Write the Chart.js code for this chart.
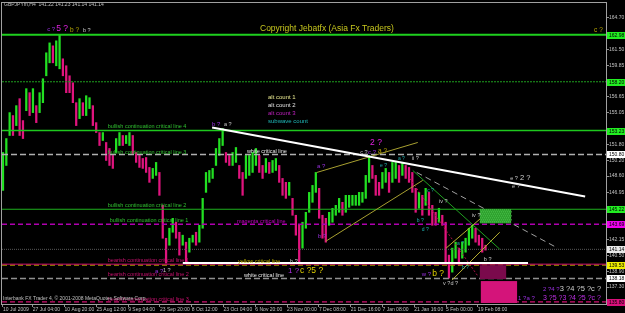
<!DOCTYPE html>
<html>
<head>
<meta charset="utf-8">
<script src="https://cdn.jsdelivr.net/npm/chart.js@4.4.0/dist/chart.umd.min.js"></script>
<style>
  html, body { margin: 0; padding: 0; background: #000; overflow: hidden; }
  canvas { display: block; }
</style>
</head>
<body>
<canvas id="chart" width="625" height="313"></canvas>
<script>
// GBPJPY H4, sampled roughly every 6-7 bars (high / low)
const HIGHS = [151.00,152.42,155.06,154.76,155.77,156.48,154.25,157.50,157.09,157.50,
  155.77,157.09,158.51,161.15,162.16,161.86,162.37,162.97,160.54,159.83,
  158.81,158.10,156.07,156.48,156.07,156.78,156.58,155.77,154.04,153.03,
  153.03,152.02,151.41,150.70,152.42,153.03,152.73,152.73,153.03,152.73,
  151.00,150.70,150.39,150.49,149.48,149.38,149.99,148.97,145.62,142.27,
  143.29,144.30,143.90,142.88,142.58,141.87,142.27,142.58,142.88,143.59,
  146.33,148.97,149.17,149.38,151.41,152.42,153.44,151.00,150.70,151.00,
  151.51,149.68,148.97,150.70,150.70,151.00,151.41,150.70,149.68,150.39,
  149.99,150.19,150.39,149.68,148.36,147.96,147.96,146.33,144.61,143.59,
  143.90,144.91,146.94,147.65,148.97,147.35,144.61,144.30,144.91,145.32,
  145.62,146.33,145.93,146.64,146.64,146.64,146.64,146.94,146.94,148.67,
  150.70,149.68,148.67,147.96,148.97,149.38,148.97,149.99,149.99,149.68,
  149.99,149.68,149.48,148.97,147.35,146.94,146.64,147.35,146.94,145.62,
  144.91,145.32,144.61,143.90,140.55,141.26,141.87,141.26,141.87,142.27,
  143.29,143.59,143.29,142.58,142.27,141.56];
const LOWS = [147.14,149.68,152.73,152.73,153.74,152.73,152.42,155.26,154.76,155.06,
  154.04,155.06,156.07,158.81,160.13,160.13,159.83,159.52,158.81,157.09,
  157.09,156.07,153.74,154.45,154.76,154.76,155.47,153.74,153.03,151.71,
  152.22,150.19,149.68,149.38,151.00,151.71,151.71,151.91,151.71,150.90,
  149.99,149.48,149.38,148.97,147.96,148.36,148.67,146.64,142.27,139.74,
  141.56,142.88,142.27,140.55,141.56,139.84,140.85,141.87,141.56,141.87,
  143.29,146.94,147.96,148.36,149.68,150.70,151.71,149.99,149.68,149.68,
  149.99,148.36,146.64,148.36,148.67,148.97,149.68,148.97,148.36,148.97,
  148.87,148.97,149.17,147.96,146.64,146.33,146.64,144.61,142.58,139.84,
  141.26,143.29,144.91,145.93,146.94,144.30,142.27,141.87,143.59,143.90,
  144.61,144.91,144.61,144.91,145.42,145.62,145.62,145.62,145.93,146.33,
  147.96,148.36,146.64,146.64,147.35,147.96,146.94,147.96,148.36,147.96,
  148.67,148.36,147.96,146.94,144.91,145.32,144.61,145.62,144.61,143.59,
  143.59,143.90,143.59,139.84,138.21,138.82,140.24,139.53,140.24,140.85,
  141.56,142.27,141.87,141.56,140.85,141.06];

const X_LABELS = ['10 Jul 2009','27 Jul 04:00','10 Aug 20:00','25 Aug 12:00','9 Sep 04:00',
  '23 Sep 20:00','8 Oct 12:00','23 Oct 04:00','6 Nov 20:00','23 Nov 00:00','7 Dec 08:00',
  '21 Dec 16:00','7 Jan 08:00','21 Jan 16:00','5 Feb 00:00','19 Feb 08:00'];
const Y_TICKS = [164.70,161.50,159.85,156.65,155.05,151.80,150.20,148.60,146.95,142.15,140.50,138.90,137.30];

// horizontal levels
const LEVELS = [162.98,158.20,153.23,150.80,145.22,143.69,141.14,139.63,139.53,138.18,135.80];

// trend lines: [bar, price] end points
const TREND_WHITE    = [[423,153.54],[1174,146.53]];
const TREND_YELLOW_A = [[634,148.97],[837,152.02]];
const TREND_YELLOW_B = [[652,141.97],[847,148.16]];
const TREND_YELLOW_C = [[894,141.26],[978,144.91]];
const TREND_YELLOW_D = [[906,138.01],[1002,142.88]];
const TREND_RED      = [[821,148.36],[958,138.42]];
const TREND_GREEN    = [[827,149.17],[1002,141.16]];
const TREND_GREY     = [[835,148.97],[1119,141.26]];
const WHITE_SEGMENT  = [[364,139.74],[1059,139.74]];

// rectangles: [bar from, bar to, price low, price high]
const ZONE_GREEN = [962,1025,143.79,145.21];
const ZONE_DARK  = [962,1015,138.11,139.53];
const ZONE_PINK  = [964,1037,135.68,137.91];

// level captions: [bar, price, text]
const GREEN_CAPTIONS = [[213,153.64,'bullish continuation critical line 4'],[213,151.00,'bullish continuation critical line 3'],
  [213,145.62,'bullish continuation critical line 2'],[217,144.10,'bullish continuation critical line 1']];
const PINK_CAPTIONS = [[213,140.04,'bearish continuation critical line 1'],[213,138.62,'bearish continuation critical line 2'],
  [213,136.08,'bearish continuation critical line 3']];
const WHITE_CAPTIONS = [[493,151.10,'white critical line'],[487,138.52,'white critical line']];
const MAGENTA_CAPTIONS = [[473,144.00,'magenta critical line']];
const YELLOW_CAPTIONS = [[475,139.94,'yellow critical line']];

// wave counts: [bar, price, text]
const PURPLE_WAVES = [[91,163.50,'c ?'],[423,153.84,'b ?'],[737,151.00,'c ?'],[634,149.60,'a ?'],[636,142.45,'b ?'],
  [308,138.95,'a ?'],[845,138.62,'w ?'],[1039,136.18,'1 ?a ?'],[1089,137.10,'2 ?4 ?']];
const PURPLE_BIG = [[576,138.95,'1 ?']];
const MAGENTA_BIG = [[109,163.60,'5 ?'],[741,152.05,'2 ?']];
const MAGENTA_ROW = [[1089,136.18,'3 ?5 ?3 ?4 ?5 ?c ?']];
const OLIVE_WAVES = [[137,163.45,'b ?'],[1192,163.50,'c ?'],[757,151.10,'a ?']];
const YELLOW_BIG = [[600,138.95,'c ?5 ?'],[866,138.62,'b ?']];
const GREY_WAVES = [[163,163.45,'b ?'],[447,153.84,'a ?'],[721,151.00,'c ?'],[324,138.95,'1 ?'],[580,139.94,'b ?'],
  [1023,148.36,'e ?'],[1027,147.55,'e ?'],[888,137.71,'v ?d ?'],[970,140.14,'b ?'],[825,150.40,'ii ?'],[880,146.00,'iv ?'],
  [946,144.60,'iv ?']];
const GREY_BIG = [[1043,148.36,'2 ?'],[1123,137.10,'3 ?4 ?5 ?c ?']];
const TEAL_WAVES = [[761,149.68,'e ?'],[797,150.39,'a ?'],[856,147.14,'c ?'],[835,144.10,'b ?'],[845,143.19,'d ?'],
  [916,141.77,'a ?'],[926,139.23,'b ?']];

const FONT = '"Liberation Sans", Arial, sans-serif';
const X_MAX = 1216, FIRST_BAR = 2, STEP = 6.7;
const Y_MIN = 135.575, Y_MAX = 166.22;
const UP = '#22e022', DOWN = '#e0147e';

const xTickBars = X_LABELS.map((_, i) => i === 0 ? 2 : 62 + 64 * (i - 1));

const priceData = HIGHS.map((h, k) => ({ x: FIRST_BAR + k * STEP, y: [LOWS[k], h] }));
const priceColors = HIGHS.map((h, k) => {
  if (k === 0) return UP;
  return (h + LOWS[k]) >= (HIGHS[k - 1] + LOWS[k - 1]) ? UP : DOWN;
});

const LEVEL_STYLE = [
  { c: '#1ed01e', w: 2,   d: [],    box: '#22ee22' },
  { c: '#1ea01e', w: 1,   d: [2, 1], box: '#22ee22' },
  { c: '#1ec81e', w: 1.5, d: [],    box: '#22ee22' },
  { c: '#b0b0b0', w: 1.5, d: [6, 3], box: '#ffffff' },
  { c: '#1eb01e', w: 1.2, d: [],    box: '#22ee22' },
  { c: '#b000b0', w: 1.5, d: [5, 3], box: '#ee00ee' },
  { c: '#585858', w: 1,   d: [1, 1], box: '#e8e8e8' },
  { c: '#d01070', w: 1,   d: [],    box: null },
  { c: '#a89400', w: 1.2, d: [5, 3], box: '#eeee00' },
  { c: '#909090', w: 1.5, d: [6, 3], box: '#ffffff' },
  { c: '#d01070', w: 1.2, d: [5, 3], box: '#d8107a' }
];

function seg(points, color, width, dash) {
  return {
    type: 'line', data: points.map(([x, y]) => ({ x, y })),
    borderColor: color, borderWidth: width, borderDash: dash || [],
    pointRadius: 0, fill: false, tension: 0, order: 0
  };
}

const datasets = [
  { type: 'bar', data: priceData, backgroundColor: priceColors, barThickness: 1.6, order: 2 }
];
LEVELS.forEach((v, i) => {
  const s = LEVEL_STYLE[i];
  datasets.push(Object.assign(seg([[0, v], [X_MAX, v]], s.c, s.w, s.d), { order: 1 }));
});
datasets.push(seg(WHITE_SEGMENT, '#ffffff', 2));
datasets.push(seg(TREND_WHITE, '#ffffff', 2));
datasets.push(seg(TREND_YELLOW_A, '#a8a030', 1));
datasets.push(seg(TREND_YELLOW_B, '#a8a030', 1));
datasets.push(seg(TREND_YELLOW_C, '#b8b030', 1));
datasets.push(seg(TREND_YELLOW_D, '#b8b030', 1));
datasets.push(seg(TREND_RED, '#b0104a', 1, [2, 2]));
datasets.push(seg(TREND_GREEN, '#20a020', 1));
datasets.push(seg(TREND_GREY, '#a0a0a0', 1, [6, 4]));

function txt(ctx, s, x, y, color, size) {
  ctx.font = size + 'px ' + FONT;
  ctx.fillStyle = color;
  ctx.textAlign = 'left';
  ctx.textBaseline = 'middle';
  ctx.fillText(s, x, y);
}

const overlay = {
  id: 'overlay',
  beforeDraw(chart) {
    const { ctx, width, height } = chart;
    ctx.save();
    ctx.fillStyle = '#000';
    ctx.fillRect(0, 0, width, height);
    ctx.restore();
  },
  afterDatasetsDraw(chart) {
    const { ctx, chartArea: a } = chart;
    const xs = chart.scales.x, ys = chart.scales.y;
    ctx.save();
    ctx.beginPath();
    ctx.rect(a.left, a.top, a.right - a.left, a.bottom - a.top);
    ctx.clip();

    const zone = (z, fill) => {
      const x0 = xs.getPixelForValue(z[0]), x1 = xs.getPixelForValue(z[1]);
      const y0 = ys.getPixelForValue(z[3]), y1 = ys.getPixelForValue(z[2]);
      ctx.fillStyle = fill;
      ctx.fillRect(x0, y0, x1 - x0, y1 - y0);
      return [x0, y0, x1, y1];
    };
    const g = zone(ZONE_GREEN, '#2c9c2c');
    ctx.fillStyle = '#55d055';
    for (let yy = g[1]; yy < g[3]; yy += 2)
      for (let xx = g[0] + ((yy - g[1]) % 4 ? 1 : 0); xx < g[2]; xx += 2) ctx.fillRect(xx, yy, 1, 1);
    zone(ZONE_DARK, '#7a0a4c');
    zone(ZONE_PINK, '#d4147a');

    const put = (list, color, size) => list.forEach(([b, p, s]) =>
      txt(ctx, s, xs.getPixelForValue(b), ys.getPixelForValue(p), color, size));
    put(GREEN_CAPTIONS, '#30c030', 5.5);
    put(PINK_CAPTIONS, '#c8106e', 5.5);
    put(WHITE_CAPTIONS, '#e8e8e8', 5.5);
    put(MAGENTA_CAPTIONS, '#c000c0', 5.5);
    put(YELLOW_CAPTIONS, '#b4a800', 5.5);
    put(PURPLE_WAVES, '#9a30e0', 6);
    put(PURPLE_BIG, '#b030e8', 8);
    put(MAGENTA_BIG, '#e020e0', 8.5);
    put(MAGENTA_ROW, '#c030e8', 7);
    put(OLIVE_WAVES, '#b8a800', 6.5);
    put(YELLOW_BIG, '#e0d000', 8.5);
    put(GREY_WAVES, '#c8c8c8', 5.5);
    put(GREY_BIG, '#d0d0d0', 7.5);
    put(TEAL_WAVES, '#20b0b0', 5);
    ctx.restore();

    ctx.save();
    txt(ctx, 'GBPJPYm,H4  141.22 141.23 141.14 141.14', 4, 5, '#c0c0c0', 5);
    txt(ctx, 'Copyright Jebatfx (Asia Fx Traders)', 260, 29, '#c8c81e', 8.5);
    txt(ctx, 'alt count 1', 268, 97, '#e8e890', 6);
    txt(ctx, 'alt count 2', 268, 105, '#e0e0e0', 6);
    txt(ctx, 'alt count 3', 268, 113, '#c020c0', 6);
    txt(ctx, 'subwave count', 268, 121, '#20b8b8', 6);
    txt(ctx, 'Interbank FX Trader 4, \u00a9 2001-2008 MetaQuotes Software Corp.', 3, 299, '#c0c0c0', 5);
    ctx.restore();
  },
  afterDraw(chart) {
    const { ctx, chartArea: a } = chart;
    const ys = chart.scales.y;
    ctx.save();
    ctx.strokeStyle = '#a0a0a0';
    ctx.lineWidth = 1;
    ctx.strokeRect(a.left - 0.5, a.top - 0.5, a.right - a.left + 1, a.bottom - a.top + 1);
    LEVELS.forEach((v, i) => {
      const s = LEVEL_STYLE[i];
      if (!s.box) return;
      const y = Math.round(ys.getPixelForValue(v));
      ctx.fillStyle = s.box;
      ctx.fillRect(a.right + 1, y - 3, 625 - a.right - 1, 7);
      txt(ctx, v.toFixed(2), a.right + 3, y + 0.5, '#000', 5);
    });
    ctx.restore();
  }
};

new Chart(document.getElementById('chart'), {
  type: 'bar',
  data: { datasets },
  options: {
    responsive: false,
    animation: false,
    devicePixelRatio: 1,
    layout: { padding: { left: 2, top: 2, right: 0, bottom: 0 } },
    plugins: { legend: { display: false }, tooltip: { enabled: false } },
    scales: {
      x: {
        type: 'linear', min: 0, max: X_MAX, offset: false, position: 'bottom',
        afterBuildTicks: s => { s.ticks = xTickBars.map(v => ({ value: v })); },
        afterFit: s => { s.height = 9; },
        ticks: {
          autoSkip: false, maxRotation: 0, minRotation: 0, align: 'start', padding: 0,
          color: '#c0c0c0', font: { family: FONT, size: 5 },
          callback: (v, i) => X_LABELS[i]
        },
        grid: { display: true, drawOnChartArea: false, drawTicks: true, tickLength: 3, color: '#909090', offset: false },
        border: { display: false }
      },
      y: {
        type: 'linear', position: 'right', min: Y_MIN, max: Y_MAX,
        afterBuildTicks: s => { s.ticks = Y_TICKS.map(v => ({ value: v })); },
        afterFit: s => { s.width = 19; },
        ticks: { padding: 0, color: '#c0c0c0', font: { family: FONT, size: 5 }, callback: v => v.toFixed(2) },
        grid: { display: true, drawOnChartArea: false, drawTicks: true, tickLength: 3, color: '#909090' },
        border: { display: false }
      }
    }
  },
  plugins: [overlay]
});
</script>
</body>
</html>
